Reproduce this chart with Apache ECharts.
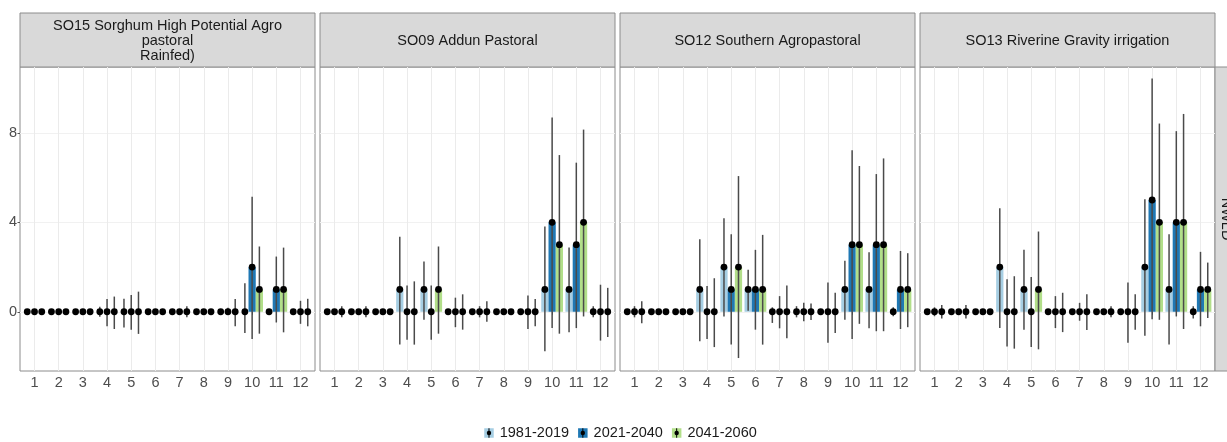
<!DOCTYPE html>
<html>
<head>
<meta charset="utf-8">
<script src="https://cdn.jsdelivr.net/npm/echarts@6/dist/echarts.min.js"></script>
<style>
  html, body { margin: 0; padding: 0; background: #ffffff; }
  #chart { width: 1227px; height: 442px; }
</style>
</head>
<body>
<div id="chart"></div>
<script>
// ---- data ----
const months = [1, 2, 3, 4, 5, 6, 7, 8, 9, 10, 11, 12];
const periods = ['1981-2019', '2021-2040', '2041-2060'];
const regions = [
  'SO15 Sorghum High Potential Agro\npastoral\nRainfed)',
  'SO09 Addun Pastoral',
  'SO12 Southern Agropastoral',
  'SO13 Riverine Gravity irrigation'
];
const rowLabel = 'NWLD';
const yTicks = [0, 4, 8];

// one row per period, one value per month
const so15Mid = [
  [0, 0, 0, 0, 0, 0, 0, 0, 0, 0, 0, 0],
  [0, 0, 0, 0, 0, 0, 0, 0, 0, 2, 1, 0],
  [0, 0, 0, 0, 0, 0, 0, 0, 0, 1, 1, 0]
];
const so15Low = [
  [0, 0, 0, -0.22, -0.70, 0, 0, 0, 0, -0.95, 0, 0],
  [0, 0, 0, -0.65, -0.80, 0, 0, 0, -0.15, -1.22, -0.48, -0.54],
  [0, 0, 0, -0.77, -0.99, 0, -0.25, 0, -0.65, -0.98, -0.92, -0.65]
];
const so15High = [
  [0, 0, 0, 0.22, 0.58, 0, 0, 0, 0, 1.28, 0, 0],
  [0, 0, 0, 0.57, 0.75, 0, 0, 0, 0.18, 5.15, 2.47, 0.49],
  [0, 0, 0, 0.68, 0.90, 0, 0.25, 0, 0.57, 2.92, 2.87, 0.58]
];

const so09Mid = [
  [0, 0, 0, 1, 1, 0, 0, 0, 0, 1, 1, 0],
  [0, 0, 0, 0, 0, 0, 0, 0, 0, 4, 3, 0],
  [0, 0, 0, 0, 1, 0, 0, 0, 0, 3, 4, 0]
];
const so09Low = [
  [0, 0, 0, -1.47, -0.36, 0, 0, 0, 0, -1.77, -0.92, -0.25],
  [0, 0, 0, -1.25, -1.25, -0.69, -0.25, 0, -0.77, -0.73, -0.73, -1.29],
  [-0.25, -0.25, 0, -1.47, -0.98, -0.80, -0.45, 0, -0.65, -0.98, -0.21, -1.13]
];
const so09High = [
  [0, 0, 0, 3.36, 2.25, 0, 0, 0, 0, 3.81, 2.87, 0.25],
  [0, 0, 0, 1.18, 1.18, 0.63, 0.25, 0, 0.73, 8.69, 6.67, 1.21],
  [0.25, 0.25, 0, 1.36, 2.92, 0.78, 0.47, 0, 0.57, 7.01, 8.15, 1.07]
];

const so12Mid = [
  [0, 0, 0, 1, 2, 1, 0, 0, 0, 1, 1, 0],
  [0, 0, 0, 0, 1, 1, 0, 0, 0, 3, 3, 1],
  [0, 0, 0, 0, 2, 1, 0, 0, 0, 3, 3, 1]
];
const so12Low = [
  [0, 0, 0, -1.32, -0.21, 0.05, -0.50, -0.25, 0, -0.36, -0.74, -0.20],
  [-0.25, 0, 0, -1.22, -1.47, -0.80, -0.74, -0.42, -1.39, -1.22, -0.87, -0.77],
  [-0.51, 0, 0, -1.58, -2.07, -1.47, -1.19, -0.37, -0.95, -0.54, -0.87, -0.69]
];
const so12High = [
  [0, 0, 0, 3.24, 4.18, 1.88, 0.20, 0.25, 0, 2.28, 2.66, 0.20],
  [0.25, 0, 0, 1.15, 3.47, 2.77, 0.70, 0.40, 1.31, 7.23, 6.16, 2.72],
  [0.47, 0, 0, 1.50, 6.07, 3.44, 1.17, 0.37, 0.85, 6.52, 6.86, 2.62]
];

const so13Mid = [
  [0, 0, 0, 2, 1, 0, 0, 0, 0, 2, 1, 0],
  [0, 0, 0, 0, 0, 0, 0, 0, 0, 5, 4, 1],
  [0, 0, 0, 0, 1, 0, 0, 0, 0, 4, 4, 1]
];
const so13Low = [
  [0, 0, 0, -0.73, -0.80, 0, 0, 0, 0, -1.07, -1.47, -0.30],
  [-0.20, 0, 0, -1.55, -1.58, -0.73, -0.40, 0, -1.39, -0.33, -0.21, -0.65],
  [-0.30, -0.30, 0, -1.65, -1.68, -0.91, -0.82, -0.25, -0.80, -0.36, -0.77, -0.28]
];
const so13High = [
  [0, 0, 0, 4.63, 2.77, 0, 0, 0, 0, 5.03, 3.47, 0.25],
  [0.20, 0, 0, 1.45, 1.55, 0.70, 0.40, 0, 1.31, 10.43, 8.08, 2.68],
  [0.30, 0.30, 0, 1.59, 3.59, 0.85, 0.78, 0.25, 0.78, 8.42, 8.85, 2.20]
];

// ---- look & layout ----
const panelMid = [so15Mid, so09Mid, so12Mid, so13Mid];
const panelLow = [so15Low, so09Low, so12Low, so13Low];
const panelHigh = [so15High, so09High, so12High, so13High];

const colors = ['#a6cee3', '#1f78b4', '#b2df8a'];
const FONT = '"Liberation Sans", Arial, Helvetica, sans-serif';
const FS = 14.5;
const dodge = [-0.3, 0, 0.3];
const halfBar = 0.15;

const panelLeft = 20, panelWidth = 295, panelStep = 300;
const panelTop = 67, panelHeight = 304;
const stripTop = 13;
const borderColor = '#8c8c8c';

const grids = [], xAxes = [], yAxes = [], series = [], graphics = [];

regions.forEach((name, p) => {
  const left = panelLeft + p * panelStep;
  grids.push({
    left: left, top: panelTop, width: panelWidth, height: panelHeight,
    show: true, borderColor: borderColor, borderWidth: 1, backgroundColor: '#fff',
    containLabel: false
  });
  xAxes.push({
    type: 'value', gridIndex: p, min: 0.4, max: 12.6,
    axisLine: { show: false },
    axisTick: { show: true, length: 3, customValues: months, lineStyle: { color: '#555' } },
    axisLabel: { show: true, customValues: months, margin: 4, color: '#4d4d4d', fontSize: FS, fontFamily: FONT },
    splitLine: { show: true, lineStyle: { color: '#ebebeb', width: 1 } }
  });
  yAxes.push({
    type: 'value', gridIndex: p, min: -2.65, max: 10.95,
    axisLine: { show: false },
    axisTick: { show: p === 0, length: 2.5, customValues: yTicks, lineStyle: { color: '#555' } },
    axisLabel: { show: p === 0, customValues: yTicks, margin: 3, color: '#4d4d4d', fontSize: FS, fontFamily: FONT },
    splitLine: { show: true, lineStyle: { color: '#f1f1f1', width: 1 } }
  });

  // strip header
  graphics.push({
    type: 'rect', silent: true,
    shape: { x: left, y: stripTop, width: panelWidth, height: panelTop - stripTop },
    style: { fill: '#d9d9d9', stroke: borderColor, lineWidth: 1 }
  });
  graphics.push({
    type: 'text', silent: true, x: left + panelWidth / 2, y: (stripTop + panelTop) / 2 + 0.5,
    style: {
      text: name, fill: '#1a1a1a', font: FS + 'px ' + FONT, lineHeight: 15,
      align: 'center', verticalAlign: 'middle'
    }
  });

  periods.forEach((per, k) => {
    const data = months.map((m, i) => [m, panelMid[p][k][i], panelLow[p][k][i], panelHigh[p][k][i]]);
    const base = { type: 'custom', xAxisIndex: p, yAxisIndex: p, data: data, clip: true, silent: true,
                   encode: { x: 0, y: 1 } };
    // bars
    series.push(Object.assign({}, base, {
      name: per, z: 2,
      renderItem: (params, api) => {
        const v = api.value(1);
        if (!v) return null;
        const cx = api.value(0) + dodge[k];
        const a = api.coord([cx - halfBar, v]);
        const b = api.coord([cx + halfBar, 0]);
        return { type: 'rect', shape: { x: a[0], y: Math.min(a[1], b[1]), width: b[0] - a[0], height: Math.abs(b[1] - a[1]) },
                 style: { fill: colors[k] } };
      }
    }));
  });
  periods.forEach((per, k) => {
    const data = months.map((m, i) => [m, panelMid[p][k][i], panelLow[p][k][i], panelHigh[p][k][i]]);
    // uncertainty ranges
    series.push({
      type: 'custom', xAxisIndex: p, yAxisIndex: p, data: data, clip: true, silent: true, z: 3,
      encode: { x: 0, y: 1 },
      renderItem: (params, api) => {
        const lo = api.value(2), hi = api.value(3);
        if (!(hi > lo)) return null;
        const cx = api.value(0) + dodge[k];
        const a = api.coord([cx, hi]);
        const b = api.coord([cx, lo]);
        return { type: 'line', shape: { x1: a[0], y1: a[1], x2: b[0], y2: b[1] },
                 style: { stroke: '#4a4a4a', lineWidth: 1.5 } };
      }
    });
  });
  periods.forEach((per, k) => {
    const data = months.map((m, i) => [m, panelMid[p][k][i]]);
    // central values
    series.push({
      type: 'custom', xAxisIndex: p, yAxisIndex: p, data: data, clip: true, silent: true, z: 4,
      encode: { x: 0, y: 1 },
      renderItem: (params, api) => {
        const c = api.coord([api.value(0) + dodge[k], api.value(1)]);
        return { type: 'circle', shape: { cx: c[0], cy: c[1], r: 3.4 }, style: { fill: '#000' } };
      }
    });
  });
});

// facet row strip on the right
const rightX = panelLeft + 3 * panelStep + panelWidth;
graphics.push({
  type: 'rect', silent: true,
  shape: { x: rightX, y: panelTop, width: 30, height: panelHeight },
  style: { fill: '#d9d9d9', stroke: borderColor, lineWidth: 1 }
});
graphics.push({
  type: 'text', silent: true, x: rightX + 11, y: panelTop + panelHeight / 2, rotation: -Math.PI / 2,
  style: { text: rowLabel, fill: '#1a1a1a', font: FS + 'px ' + FONT, align: 'center', verticalAlign: 'middle' }
});

// legend
const ctx = document.createElement('canvas').getContext('2d');
ctx.font = FS + 'px ' + FONT;
const keySize = 9.5, keyGap = 6, itemGap = 9;
const textW = periods.map(t => ctx.measureText(t).width);
const totalW = periods.reduce((s, t, k) => s + keySize + keyGap + textW[k], 0) + itemGap * (periods.length - 1);
const legendCY = 433;
let lx = 620.5 - totalW / 2;
periods.forEach((per, k) => {
  graphics.push({ type: 'rect', silent: true,
    shape: { x: lx, y: legendCY - keySize / 2, width: keySize, height: keySize }, style: { fill: colors[k] } });
  graphics.push({ type: 'line', silent: true,
    shape: { x1: lx + keySize / 2, y1: legendCY - keySize / 2, x2: lx + keySize / 2, y2: legendCY + keySize / 2 },
    style: { stroke: '#000', lineWidth: 1 } });
  graphics.push({ type: 'circle', silent: true,
    shape: { cx: lx + keySize / 2, cy: legendCY, r: 2.2 }, style: { fill: '#000' } });
  graphics.push({ type: 'text', silent: true, x: lx + keySize + keyGap, y: legendCY,
    style: { text: per, fill: '#1a1a1a', font: FS + 'px ' + FONT, align: 'left', verticalAlign: 'middle' } });
  lx += keySize + keyGap + textW[k] + itemGap;
});

const chart = echarts.init(document.getElementById('chart'), null, { renderer: 'canvas' });
chart.setOption({
  backgroundColor: '#ffffff',
  animation: false,
  grid: grids,
  xAxis: xAxes,
  yAxis: yAxes,
  series: series,
  graphic: graphics
});
</script>
</body>
</html>
